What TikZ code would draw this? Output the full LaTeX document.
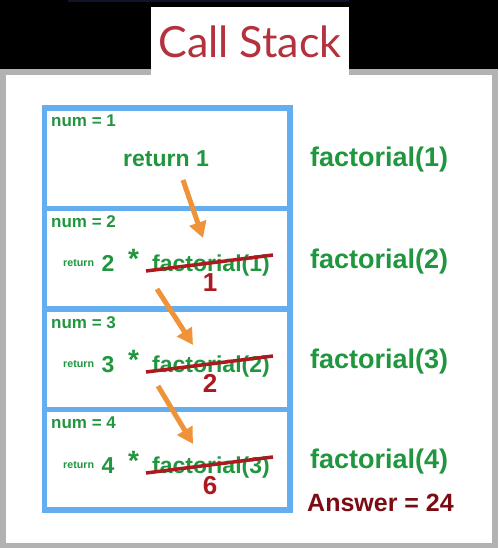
\documentclass[tikz,border=0pt]{standalone}
\usepackage{fontspec}
\setmainfont{Liberation Sans}
\newfontfamily\titlefont{Lato}
\usetikzlibrary{arrows.meta}
\definecolor{stackblue}{RGB}{100,174,240}
\definecolor{callgreen}{RGB}{32,150,62}
\definecolor{strikered}{RGB}{172,26,32}
\definecolor{answerred}{RGB}{124,12,20}
\definecolor{arroworange}{RGB}{240,146,56}
\definecolor{titlered}{RGB}{180,50,62}
\definecolor{panelgray}{RGB}{178,178,178}
\definecolor{navy}{RGB}{16,20,42}

\begin{document}
\begin{tikzpicture}[x=1pt,y=-1pt,
    frame/.style={draw=stackblue,line width=5.5pt},
    numlbl/.style={anchor=west,inner sep=0,text=callgreen,font=\bfseries\fontsize{17}{17}\selectfont},
    retword/.style={anchor=base west,inner sep=0,text=callgreen,font=\bfseries\fontsize{10.7}{11}\selectfont},
    big/.style={inner sep=0,text=callgreen,font=\bfseries\fontsize{23}{23}\selectfont},
    result/.style={anchor=base,inner sep=0,text=strikered,font=\bfseries\fontsize{26}{26}\selectfont},
    callname/.style={anchor=west,inner sep=0,text=callgreen,font=\bfseries\fontsize{27}{27}\selectfont},
    strike/.style={draw=strikered,line width=3.5pt},
    passup/.style={draw=arroworange,line width=5pt,-{Triangle[length=16pt,width=17pt]}}]

      % background, panel and title tab
      \fill[black] (0,0) rectangle (498,548);
      \useasboundingbox (0,0) rectangle (498,548);
      \fill[navy] (68,0) rectangle (349,2.5);
      \fill[panelgray] (0,69) rectangle (498,550);
      \fill[white] (6,75) rectangle (492,543);
      \fill[white] (151,7) rectangle (349,76);
      \node[inner sep=0,anchor=base,text=titlered,font=\titlefont\fontsize{43}{43}\selectfont]
        (title) at (250,58) {Call Stack};

      % the four stack frames, top one is the last call
      \draw[frame] (44.5,108) rectangle (290,208.5);
      \draw[frame] (44.5,208.5) rectangle (290,309);
      \draw[frame] (44.5,309) rectangle (290,409.5);
      \draw[frame] (44.5,409.5) rectangle (290,510);

      % frame 1
      \node[numlbl] (num1) at (51,121) {num = 1};
      \node[big] (ret1) at (166,159) {return 1};

      % frame 2
      \node[numlbl] (num2) at (51,222) {num = 2};
      \node[retword] (rw2) at (63,266) {return};
      \node[big,anchor=base] (n2) at (108,271) {2};
      \node[big,font=\bfseries\fontsize{28}{28}\selectfont] (times2) at (133.5,259) {*};
      \node[big,anchor=base west] (call2) at (152,271) {factorial(1)};
      \draw[strike] (146,271) -- (273,255);
      \node[result] (res2) at (210,291) {1};

      % frame 3
      \node[numlbl] (num3) at (51,323) {num = 3};
      \node[retword] (rw3) at (63,367) {return};
      \node[big,anchor=base] (n3) at (108,372) {3};
      \node[big,font=\bfseries\fontsize{28}{28}\selectfont] (times3) at (133.5,360) {*};
      \node[big,anchor=base west] (call3) at (152,372) {factorial(2)};
      \draw[strike] (146,372) -- (273,356);
      \node[result] (res3) at (210,392) {2};

      % frame 4
      \node[numlbl] (num4) at (51,423) {num = 4};
      \node[retword] (rw4) at (63,468) {return};
      \node[big,anchor=base] (n4) at (108,473) {4};
      \node[big,font=\bfseries\fontsize{28}{28}\selectfont] (times4) at (133.5,461) {*};
      \node[big,anchor=base west] (call4) at (152,473) {factorial(3)};
      \draw[strike] (146,473) -- (273,457);
      \node[result] (res4) at (210,494) {6};

      % labels for each call
      \node[callname] (fact1) at (310,160) {factorial(1)};
      \node[callname] (fact2) at (310,262) {factorial(2)};
      \node[callname] (fact3) at (310,362) {factorial(3)};
      \node[callname] (fact4) at (310,462) {factorial(4)};
      \node[anchor=west,inner sep=0,text=answerred,font=\bfseries\fontsize{25}{25}\selectfont]
        (answer) at (307,503) {Answer = 24};

      % values passed back down the stack
      \coordinate (from1) at (183,180);
      \coordinate (to1) at (203,238);
      \coordinate (from2) at (157,289);
      \coordinate (to2) at (193,345);
      \coordinate (from3) at (158,386);
      \coordinate (to3) at (193,444);
      \draw[passup] (from1) -- (to1);
      \draw[passup] (from2) -- (to2);
      \draw[passup] (from3) -- (to3);

\end{tikzpicture}
\end{document}
